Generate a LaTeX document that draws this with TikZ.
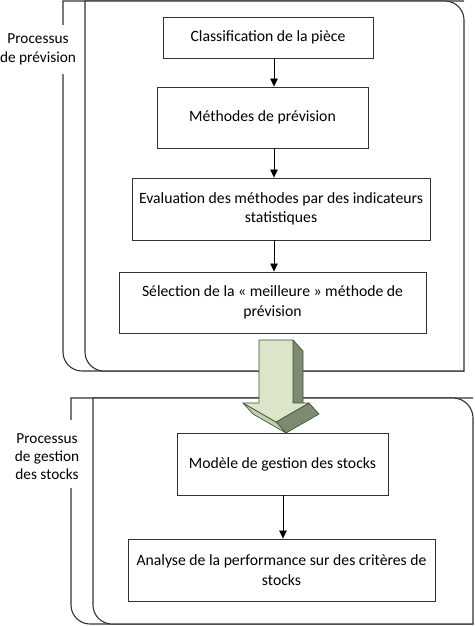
\documentclass[tikz,border=0pt]{standalone}
\usepackage{fontspec}
\setmainfont{Carlito}
\usetikzlibrary{arrows.meta}
\definecolor{linec}{HTML}{333333}
\definecolor{arrfront}{HTML}{DCE5C9}
\definecolor{arrside}{HTML}{7E8A72}
\definecolor{arrstrip}{HTML}{C4CEB0}
\definecolor{arrline}{HTML}{3E5438}
\begin{document}
\begin{tikzpicture}[x=1pt,y=-1pt,
  every node/.style={font=\fontsize{15.7}{19.5}\selectfont},
  box/.style={draw=linec, line width=0.9pt, fill=white, align=center, inner sep=0pt},
  frame/.style={draw=linec, line width=1.1pt, fill=white},
  arr/.style={draw=black, line width=0.8pt, -{Triangle[length=8pt,width=7.5pt]}},
  lbl/.style={align=center, inner sep=0pt},
  face/.style={draw=arrline, line width=0.7pt, line join=round}]
\useasboundingbox (0,0) rectangle (474,626);
% ---------- frame 1 ----------
\draw[frame] (464,1) -- (63,1) -- (63,352) .. controls (63,362.5) and (71.5,371) .. (82,371) -- (464,371);
\fill[white] (0,25) rectangle (84,74);
\node[lbl, font=\fontsize{15.3}{19}\selectfont] (l1) at (38,49.5) {Processus\\de prévision};
\draw[frame] (85,1) -- (445,1) .. controls (455.5,1) and (464,9.5) .. (464,20) -- (464,371) -- (104,371) .. controls (93.5,371) and (85,362.5) .. (85,352) -- cycle;
% ---------- frame 2 ----------
\draw[frame] (473,398) -- (71,398) -- (71,605) .. controls (71,615.5) and (79.5,624) .. (90,624) -- (473,624);
\fill[white] (0,420) rectangle (92,488);
\node[lbl, font=\fontsize{15.3}{18}\selectfont] (l2) at (47,457) {Processus\\de gestion\\des stocks};
\draw[frame] (93,398) -- (453,398) .. controls (464,398) and (473,407) .. (473,418) -- (473,624) -- (112,624) .. controls (101.5,624) and (93,615.5) .. (93,605) -- cycle;
% ---------- boxes ----------
\node[box, minimum width=210, minimum height=41] (b1) at (268,37.5) {Classification de la pièce};
\node[box, minimum width=211, minimum height=61] (b2) at (262.5,117.5) {Méthodes de prévision};
\node[box, minimum width=298, minimum height=62] (b3) at (281,209) {Evaluation des méthodes par des indicateurs\\statistiques};
\node[box, minimum width=307, minimum height=61] (b4) at (272.5,302.5) {Sélection de la « meilleure » méthode de\\prévision};
\node[box, minimum width=211, minimum height=62] (b5) at (282.5,464) {Modèle de gestion des stocks};
\node[box, minimum width=307, minimum height=62] (b6) at (281.5,570) {Analyse de la performance sur des critères de\\stocks};
% ---------- small arrows ----------
\coordinate (xa) at (274,0);
\coordinate (xb) at (283,0);
\draw[arr] (b1.south -| xa) -- (b2.north -| xa);
\draw[arr] (b2.south -| xa) -- (b3.north -| xa);
\draw[arr] (b3.south -| xa) -- (b4.north -| xa);
\draw[arr] (b5.south -| xb) -- (b6.north -| xb);
% ---------- 3D block arrow ----------
\coordinate (A1) at (259,340);
\coordinate (A2) at (293,340);
\coordinate (A3) at (293,403);
\coordinate (A4) at (309,403);
\coordinate (A5) at (276,422);
\coordinate (A6) at (243,403);
\coordinate (A7) at (259,403);
\coordinate (B2) at (303,351);
\coordinate (B3) at (303,414);
\coordinate (B4) at (319,414);
\coordinate (B5) at (286,433);
\coordinate (B6) at (253,414);
\draw[face, fill=arrside] (A2) -- (B2) -- (B3) -- (A3) -- cycle;
\draw[face, fill=arrside] (A4) -- (B4) -- (B5) -- (A5) -- cycle;
\draw[face, fill=arrstrip] (A6) -- (B6) -- (B5) -- (A5) -- cycle;
\draw[face, fill=arrfront] (A1) -- (A2) -- (A3) -- (A4) -- (A5) -- (A6) -- (A7) -- cycle;
\end{tikzpicture}
\end{document}
